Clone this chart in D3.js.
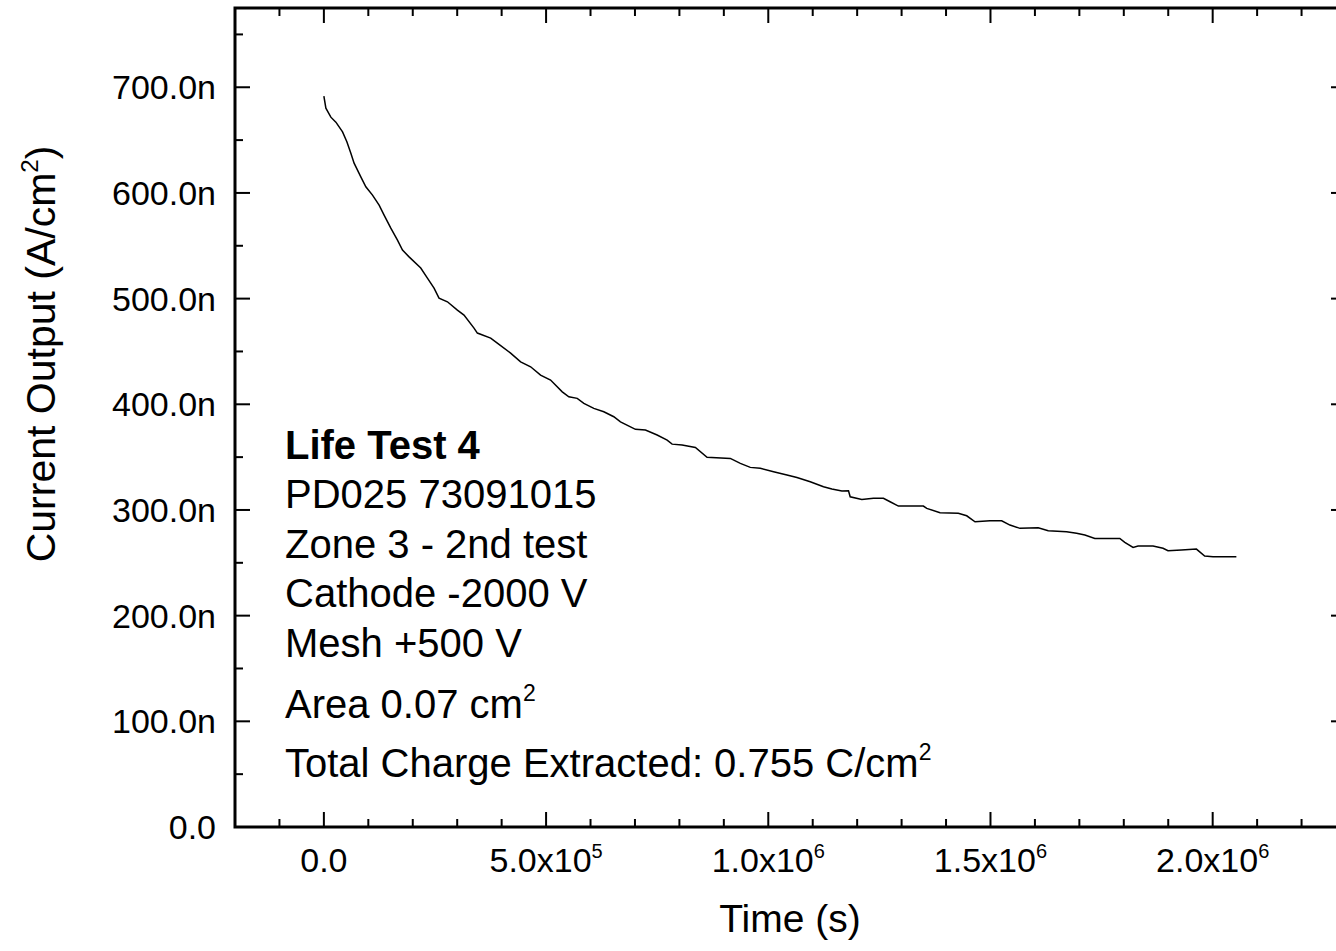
<!DOCTYPE html>
<html>
<head>
<meta charset="utf-8">
<script src="https://cdn.jsdelivr.net/npm/d3@7"></script>
<style>
  body { margin: 0; background: #fff; }
  svg { display: block; font-family: "Liberation Sans", Arial, sans-serif; }
  .tick-label { font-size: 34px; fill: #000; }
  .title { font-size: 39px; fill: #000; }
  .ytitle { font-size: 41px; fill: #000; }
  .note { font-size: 40px; fill: #000; }
</style>
</head>
<body>
<svg class="chart" width="1336" height="951"></svg>
<script>
// time in seconds
const timeSec = [0, 4500, 15700, 27000, 42000, 51700, 60700, 68000, 83100, 94400,
  109400, 124300, 135500, 150600, 165600, 176900, 191700, 218000, 233000, 247900,
  259100, 278000, 300400, 315300, 337800, 345400, 375300, 390300, 420200, 442700,
  465200, 487600, 510100, 536400, 551200, 570100, 585000, 607400, 629900, 652400,
  667400, 689900, 701100, 723600, 749900, 772400, 783600, 806100, 836000, 862200,
  914600, 937100, 959500, 982000, 1011900, 1042000, 1064500, 1094400, 1124300, 1143100,
  1165600, 1180500, 1184300, 1210500, 1236600, 1259100, 1274100, 1292800, 1349000, 1356600,
  1386500, 1427600, 1446500, 1465200, 1498900, 1525200, 1543800, 1566300, 1607400, 1629900,
  1671200, 1693700, 1712400, 1734800, 1791000, 1802200, 1820900, 1832100, 1865800, 1888300,
  1899500, 1929700, 1963400, 1982000, 2000700, 2053300]

// current in nA/cm2
const currentNA = [691.6, 680.2, 671.7, 667.0, 657.8, 648.4, 637.6, 628.2, 615.2, 605.8,
  597.9, 588.5, 579.0, 566.7, 555.3, 545.9, 539.5, 528.9, 519.4, 509.9,
  500.5, 497.0, 489.1, 484.4, 472.1, 467.4, 462.6, 457.9, 448.4, 440.2,
  435.5, 427.6, 422.9, 411.8, 407.1, 405.6, 400.9, 396.1, 392.9, 388.2,
  383.4, 378.7, 376.3, 375.6, 370.9, 366.1, 362.3, 361.4, 359.2, 349.8,
  348.8, 344.1, 340.3, 339.4, 336.1, 333.0, 330.8, 326.7, 321.9, 319.8,
  317.9, 318.2, 312.5, 310.0, 311.0, 311.0, 307.8, 303.7, 303.7, 301.5,
  297.4, 296.8, 294.5, 288.8, 289.8, 289.8, 285.7, 282.6, 283.2, 280.3,
  279.4, 277.9, 276.3, 273.1, 273.1, 269.3, 264.6, 265.8, 265.8, 263.7,
  261.4, 262.1, 263.0, 256.4, 255.7, 255.7]

const xMajorTicks = [0, 500000, 1000000, 1500000, 2000000]
const xTickMantissa = ["0.0", "5.0", "1.0", "1.5", "2.0"]
const xTickExponent = ["", "5", "6", "6", "6"]
const yMajorTicks = [0, 100, 200, 300, 400, 500, 600, 700]
const yTickLabels = ["0.0", "100.0n", "200.0n", "300.0n", "400.0n", "500.0n", "600.0n", "700.0n"]

const noteLines = [
  {text: "Life Test 4", sup: "", bold: true},
  {text: "PD025 73091015", sup: "", bold: false},
  {text: "Zone 3 - 2nd test", sup: "", bold: false},
  {text: "Cathode -2000 V", sup: "", bold: false},
  {text: "Mesh +500 V", sup: "", bold: false},
  {text: "Area 0.07 cm", sup: "2", bold: false},
  {text: "Total Charge Extracted: 0.755 C/cm", sup: "2", bold: false}
]
const noteBaselines = [459, 508, 558, 607, 657, 718, 777]

const data = timeSec.map((t, i) => ({t: t, c: currentNA[i]}))

const svg = d3.select("svg.chart")
const plotL = 235, plotR = 1346, plotT = 8, plotB = 827

const x = d3.scaleLinear().domain([-200000, 2300000]).range([plotL, plotR])
const y = d3.scaleLinear().domain([0, 775]).range([plotB, plotT])

const xMinor = d3.range(-200000, 2300001, 100000)
const yMinor = d3.range(0, 776, 50)

// axes: ticks inward on all four sides
function tickLen(isMajor) { return isMajor ? 15 : 8 }

svg.append("g")
    .selectAll("line")
    .data(xMinor)
    .enter()
    .append("line")
    .attr("x1", d => x(d))
    .attr("x2", d => x(d))
    .attr("y1", plotB)
    .attr("y2", d => plotB - tickLen(d % 500000 === 0))
    .attr("stroke", "#000")
    .attr("stroke-width", 2)

svg.append("g")
    .selectAll("line")
    .data(xMinor)
    .enter()
    .append("line")
    .attr("x1", d => x(d))
    .attr("x2", d => x(d))
    .attr("y1", plotT)
    .attr("y2", d => plotT + tickLen(d % 500000 === 0))
    .attr("stroke", "#000")
    .attr("stroke-width", 2)

svg.append("g")
    .selectAll("line")
    .data(yMinor)
    .enter()
    .append("line")
    .attr("y1", d => y(d))
    .attr("y2", d => y(d))
    .attr("x1", plotL)
    .attr("x2", d => plotL + tickLen(d % 100 === 0))
    .attr("stroke", "#000")
    .attr("stroke-width", 2)

svg.append("g")
    .selectAll("line")
    .data(yMinor)
    .enter()
    .append("line")
    .attr("y1", d => y(d))
    .attr("y2", d => y(d))
    .attr("x1", plotR)
    .attr("x2", d => plotR - tickLen(d % 100 === 0))
    .attr("stroke", "#000")
    .attr("stroke-width", 2)

svg.append("rect")
    .attr("x", plotL)
    .attr("y", plotT)
    .attr("width", plotR - plotL)
    .attr("height", plotB - plotT)
    .attr("fill", "none")
    .attr("stroke", "#000")
    .attr("stroke-width", 3)

// x tick labels
const xLabels = svg.append("g")
    .selectAll("text")
    .data(xMajorTicks)
    .enter()
    .append("text")
    .attr("class", "tick-label")
    .attr("x", d => x(d))
    .attr("y", 872)
    .attr("text-anchor", "middle")

xLabels.append("tspan")
    .text((d, i) => xTickExponent[i] ? xTickMantissa[i] + "x10" : xTickMantissa[i])
xLabels.append("tspan")
    .attr("dy", -14)
    .style("font-size", "20px")
    .text((d, i) => xTickExponent[i])

// y tick labels
svg.append("g")
    .selectAll("text")
    .data(yMajorTicks)
    .enter()
    .append("text")
    .attr("class", "tick-label")
    .attr("x", 216)
    .attr("y", d => y(d) + 12)
    .attr("text-anchor", "end")
    .text((d, i) => yTickLabels[i])

// axis titles
svg.append("text")
    .attr("class", "title")
    .attr("x", 790)
    .attr("y", 932)
    .attr("text-anchor", "middle")
    .text("Time (s)")

const yTitle = svg.append("text")
    .attr("class", "ytitle")
    .attr("transform", "translate(55,354) rotate(-90)")
    .attr("text-anchor", "middle")
yTitle.append("tspan").text("Current Output (A/cm")
yTitle.append("tspan").attr("dy", -17).style("font-size", "24px").text("2")
yTitle.append("tspan").attr("dy", 17).text(")")

// data line
const line = d3.line()
    .x(d => x(d.t))
    .y(d => y(d.c))

svg.append("path")
    .datum(data)
    .attr("d", line)
    .attr("fill", "none")
    .attr("stroke", "#000")
    .attr("stroke-width", 1.5)

// annotation
const notes = svg.append("g")
    .selectAll("text")
    .data(noteLines)
    .enter()
    .append("text")
    .attr("class", "note")
    .attr("x", 285)
    .attr("y", (d, i) => noteBaselines[i])
    .style("font-weight", d => d.bold ? "bold" : "normal")

notes.append("tspan").text(d => d.text)
notes.append("tspan")
    .attr("dy", -17)
    .style("font-size", "23px")
    .text(d => d.sup)
</script>
</body>
</html>
